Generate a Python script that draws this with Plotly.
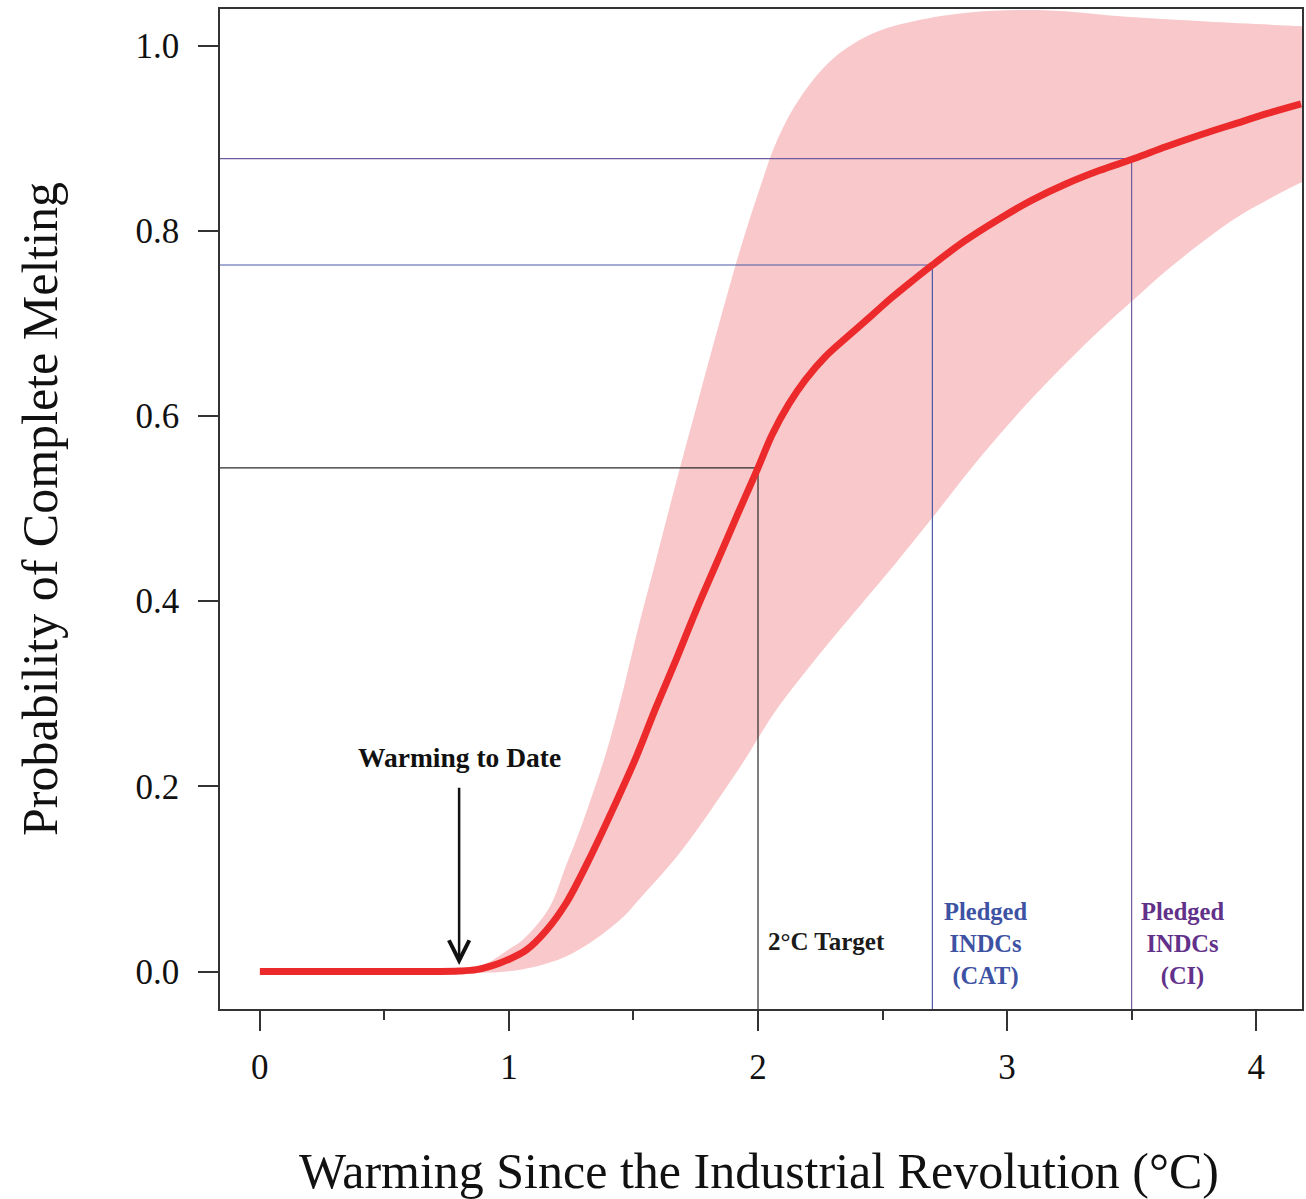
import plotly.graph_objects as go

# ---------------- data ----------------
curve_x = [0.0, 0.7, 0.8, 0.87, 0.93, 0.99, 1.069, 1.149, 1.23, 1.32, 1.415, 1.51, 1.59, 1.67,
           1.75, 1.84, 1.92, 2.0, 2.057, 2.124, 2.19, 2.27, 2.365, 2.458, 2.538, 2.62, 2.70,
           2.83, 2.97, 3.10, 3.24, 3.37, 3.51, 3.64, 3.78, 3.92, 4.05, 4.18]
curve_p = [0.0, 0.0, 0.0005, 0.002, 0.006, 0.012, 0.023, 0.044, 0.074, 0.120, 0.174, 0.231, 0.285, 0.336,
           0.389, 0.445, 0.495, 0.544, 0.580, 0.613, 0.639, 0.664, 0.687, 0.709, 0.728, 0.746, 0.763,
           0.789, 0.813, 0.833, 0.851, 0.865, 0.878, 0.891, 0.904, 0.916, 0.927, 0.937]

upper_x = [0.80, 0.86, 0.92, 1.0, 1.055, 1.16, 1.23, 1.28, 1.39, 1.455, 1.52, 1.59, 1.67, 1.76, 1.87,
           1.94, 2.0, 2.08, 2.18, 2.31, 2.47, 2.62, 2.86, 3.17, 3.48, 3.80, 4.18, 4.25]
upper_p = [0.0, 0.004, 0.010, 0.024, 0.034, 0.068, 0.115, 0.149, 0.236, 0.300, 0.372, 0.444, 0.527, 0.617, 0.725,
           0.790, 0.840, 0.900, 0.948, 0.988, 1.014, 1.026, 1.036, 1.038, 1.031, 1.026, 1.021, 1.020]

lower_x = [0.80, 0.99, 1.19, 1.32, 1.455, 1.52, 1.68, 1.82, 1.95, 2.0, 2.08, 2.2, 2.35, 2.5, 2.565,
           2.70, 2.83, 2.97, 3.10, 3.24, 3.37, 3.51, 3.64, 3.78, 3.92, 4.05, 4.18, 4.25]
lower_p = [0.0, 0.0, 0.012, 0.030, 0.058, 0.077, 0.126, 0.178, 0.230, 0.252, 0.285, 0.327, 0.376, 0.424, 0.445,
           0.490, 0.535, 0.580, 0.619, 0.658, 0.692, 0.726, 0.757, 0.787, 0.814, 0.834, 0.852, 0.860]

threshold_x = [2.0, 2.7, 3.5]
threshold_p = [0.544, 0.763, 0.878]
threshold_labels = ["2°C Target", "Pledged<br>INDCs<br>(CAT)", "Pledged<br>INDCs<br>(CI)"]

warming_to_date = 0.8
warming_label = "Warming to Date"

x_ticks = [0, 1, 2, 3, 4]
x_minor_ticks = [0.5, 1.5, 2.5, 3.5]
y_ticks = [0.0, 0.2, 0.4, 0.6, 0.8, 1.0]

X_RANGE = [-0.160, 4.184]
Y_RANGE = [-0.0405, 1.0395]

# ---------------- styles ----------------
FONT = "Liberation Serif, Times New Roman, serif"
BAND_COLOR = "#F9C8CA"
LINE_COLOR = "#EC2A2B"
THRESH_LINE_COLORS = ["#2b2b2b", "#4A5AA8", "#6E5C9E"]
THRESH_TEXT_COLORS = ["#1a1a1a", "#3D52A3", "#62318A"]
AXIS_COLOR = "#333333"

fig = go.Figure()

# uncertainty band
fig.add_trace(go.Scatter(
    x=upper_x + lower_x[::-1], y=upper_p + lower_p[::-1],
    fill="toself", fillcolor=BAND_COLOR,
    line=dict(width=0, color=BAND_COLOR, shape="spline", smoothing=1.0),
    mode="lines", hoverinfo="skip", showlegend=False))

# threshold guide lines
for tx, tp, col in zip(threshold_x, threshold_p, THRESH_LINE_COLORS):
    fig.add_trace(go.Scatter(
        x=[X_RANGE[0], tx, tx], y=[tp, tp, Y_RANGE[0]],
        mode="lines", line=dict(color=col, width=1.2),
        hoverinfo="skip", showlegend=False))

# main curve
fig.add_trace(go.Scatter(
    x=curve_x, y=curve_p, mode="lines",
    line=dict(color=LINE_COLOR, width=7, shape="spline", smoothing=1.0),
    showlegend=False))

# arrow "Warming to Date"
fig.add_annotation(
    x=warming_to_date, y=0.007, ax=warming_to_date, ay=0.20,
    xref="x", yref="y", axref="x", ayref="y",
    text="", showarrow=True, arrowhead=5, arrowsize=1.6, arrowwidth=2.5,
    arrowcolor="#111111")
fig.add_annotation(
    x=warming_to_date, y=0.231, xref="x", yref="y", text="<b>" + warming_label + "</b>",
    showarrow=False, xanchor="center", yanchor="middle",
    font=dict(family=FONT, size=27.5, color="#111111"))

# threshold labels
fig.add_annotation(
    x=threshold_x[0], y=0.032, xref="x", yref="y", xanchor="left", yanchor="middle",
    xshift=8, text="<b>" + threshold_labels[0] + "</b>", showarrow=False,
    font=dict(family=FONT, size=25, color=THRESH_TEXT_COLORS[0]))
for tx, lab, col, xs in zip(threshold_x[1:], threshold_labels[1:], THRESH_TEXT_COLORS[1:], [53, 51]):
    fig.add_annotation(
        x=tx, y=0.030, xref="x", yref="y", xanchor="center", yanchor="middle",
        xshift=xs, text="<b>" + lab + "</b>", showarrow=False, align="center",
        font=dict(family=FONT, size=24.5, color=col))

# axis titles
fig.add_annotation(
    x=0.498, y=0, xref="paper", yref="paper", yshift=-162, xanchor="center", yanchor="middle",
    text="Warming Since the Industrial Revolution (°C)", showarrow=False,
    font=dict(family=FONT, size=50, color="#111111"))
fig.add_annotation(
    x=0, y=0.5, xref="paper", yref="paper", xshift=-180, xanchor="center", yanchor="middle",
    text="Probability of Complete Melting", showarrow=False, textangle=-90,
    font=dict(family=FONT, size=50, color="#111111"))

fig.update_xaxes(
    range=X_RANGE, tickvals=x_ticks, ticktext=[str(v) for v in x_ticks],
    ticks="outside", ticklen=20, tickwidth=1.5, tickcolor=AXIS_COLOR,
    showline=True, linecolor=AXIS_COLOR, linewidth=1.5, mirror=True,
    showgrid=False, zeroline=False, ticklabelstandoff=6,
    tickfont=dict(family=FONT, size=35, color="#111111"),
    minor=dict(tickvals=x_minor_ticks, ticks="outside", ticklen=9, tickwidth=1.5,
               tickcolor=AXIS_COLOR, showgrid=False))
fig.update_yaxes(
    range=Y_RANGE, tickvals=y_ticks, tickformat=".1f",
    ticks="outside", ticklen=20, tickwidth=1.5, tickcolor=AXIS_COLOR,
    showline=True, linecolor=AXIS_COLOR, linewidth=1.5, mirror=True,
    showgrid=False, zeroline=False, ticklabelstandoff=12,
    tickfont=dict(family=FONT, size=35, color="#111111"))

fig.update_layout(
    width=1306, height=1199,
    margin=dict(l=220, r=2, t=9, b=190),
    paper_bgcolor="white", plot_bgcolor="white",
    showlegend=False)

fig.write_html("out.html")
